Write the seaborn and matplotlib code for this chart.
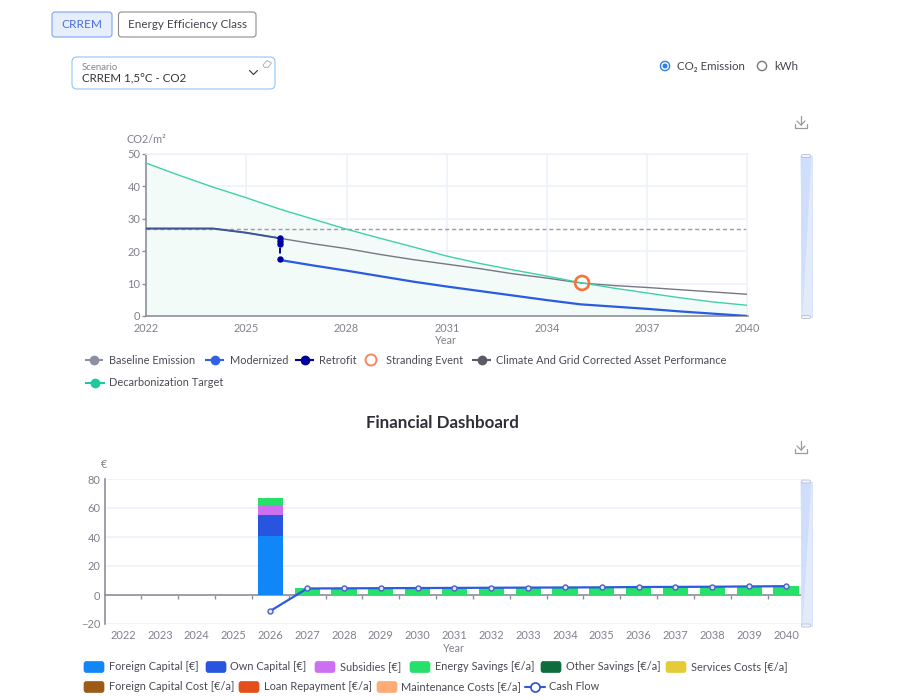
import numpy as np
import matplotlib
matplotlib.use("Agg")
import matplotlib.pyplot as plt
from matplotlib.patches import FancyBboxPatch, Circle, Polygon, Rectangle
import seaborn as sns

# ---------- data: emissions chart ----------
years = list(range(2022, 2041))
year_ticks = [2022, 2025, 2028, 2031, 2034, 2037, 2040]
target = [47.2, 43.4, 39.8, 36.5, 33.0, 29.9, 26.8, 24.0, 21.3, 18.5, 16.2, 14.2, 12.3, 10.3, 8.6, 7.1, 5.6, 4.3, 3.3]
baseline = [27.0] * 19
climate = [27.0, 27.0, 27.0, 25.7, 24.0, 22.3, 20.8, 19.0, 17.4, 16.0, 14.6, 13.0, 11.7, 10.2, 9.4, 8.8, 8.1, 7.4, 6.7]
pre_years = [2022, 2023, 2024, 2025, 2026]
pre_retrofit = [27.0, 27.0, 27.0, 25.7, 24.0]
mod_years = years[4:]
modernized = [17.3, 15.6, 14.0, 12.3, 10.6, 9.1, 7.7, 6.3, 4.9, 3.6, 2.9, 2.2, 1.4, 0.7, 0.0]
retrofit_years = [2026, 2026, 2026, 2026]
retrofit = [24.2, 23.0, 22.3, 17.5]
strand_x = [2035.05]
strand_y = [10.2]

# ---------- data: financial chart ----------
foreign_capital = [0, 0, 0, 0, 40.5] + [0] * 14
own_capital = [0, 0, 0, 0, 15.0] + [0] * 14
subsidies = [0, 0, 0, 0, 6.3] + [0] * 14
energy_savings = [0, 0, 0, 0, 4.8, 4.8, 4.8, 4.9, 5.0, 5.1, 5.2, 5.3, 5.4, 5.5, 5.6, 5.8, 5.9, 6.1, 6.3]
loan_repayment = [0, 0, 0, 0, 0, -0.2, -0.2, -0.2, -0.2, -0.2, -0.2, -0.2, -0.2, -0.2, -0.2, -0.2, -0.2, -0.2, -0.2]
cash_flow = [-11.0, 4.5, 4.6, 4.7, 4.8, 4.9, 5.0, 5.1, 5.2, 5.3, 5.5, 5.6, 5.7, 5.9, 6.1]
cash_idx = list(range(4, 19))

# ---------- text ----------
legend1 = ["Baseline Emission", "Modernized", "Retrofit", "Stranding Event",
           "Climate And Grid Corrected Asset Performance", "Decarbonization Target"]
legend2 = ["Foreign Capital [€]", "Own Capital [€]", "Subsidies [€]", "Energy Savings [€/a]",
           "Other Savings [€/a]", "Services Costs [€/a]", "Foreign Capital Cost [€/a]",
           "Loan Repayment [€/a]", "Maintenance Costs [€/a]", "Cash Flow"]

W, H = 900, 700
sns.set_theme(style="white")
plt.rcParams["font.family"] = ["Lato", "Noto Sans", "DejaVu Sans"]
TXT = "#4a4a55"
AX = "#8d8f9a"
TICK = "#80828c"
GRID = "#eef1f8"
LEG = 7.9

fig = plt.figure(figsize=(W / 100, H / 100), dpi=100, facecolor="white")


def px_axes(l, t, r, b, **kw):
    return fig.add_axes([l / W, 1 - b / H, (r - l) / W, (b - t) / H], **kw)


# ---------- emissions chart ----------
ax1 = px_axes(146, 154, 747.5, 316)
ax1.fill_between(years, target, 0, color="#f3fbf8", lw=0, zorder=1)
sns.lineplot(x=years, y=baseline, ax=ax1, color="#9a9aac", lw=1, linestyle=(0, (3, 2)), zorder=2)
sns.lineplot(x=years, y=climate, ax=ax1, color="#777783", lw=1.0, zorder=3)
sns.lineplot(x=years, y=target, ax=ax1, color="#3fd0aa", lw=1.0, zorder=3)
sns.lineplot(x=pre_years, y=pre_retrofit, ax=ax1, color="#3f5596", lw=1.4, zorder=4)
sns.lineplot(x=mod_years, y=modernized, ax=ax1, color="#2a5be0", lw=1.6, zorder=4)
ax1.plot(retrofit_years, retrofit, color="#0000a0", lw=1.4, ls=(0, (3, 2)),
         marker="o", ms=3.6, mfc="#0000a0", mec="#0000a0", zorder=5)
sns.scatterplot(x=strand_x, y=strand_y, ax=ax1, s=100, facecolor="none",
                edgecolor="#f4743b", linewidth=1.9, zorder=6, clip_on=False)
ax1.set_xlim(2022, 2040)
ax1.set_ylim(0, 50)
ax1.set_xticks(year_ticks)
ax1.set_yticks([0, 10, 20, 30, 40, 50])
ax1.grid(True, color=GRID, lw=1.2)
ax1.set_axisbelow(True)
for s in ["top", "right"]:
    ax1.spines[s].set_color(GRID)
    ax1.spines[s].set_linewidth(1.2)
for s in ["left", "bottom"]:
    ax1.spines[s].set_color(AX)
    ax1.spines[s].set_linewidth(1.2)
ax1.tick_params(axis="x", length=0, pad=5, labelsize=7.8, labelcolor=TICK)
ax1.tick_params(axis="y", left=True, length=3, width=1, color=AX, pad=1, labelsize=8, labelcolor=TICK)
ax1.set_xlabel("")
ax1.set_ylabel("")

# ---------- financial chart ----------
ax2 = px_axes(104.6, 479, 804.4, 624)
BAR_W = 0.68
bottom = np.zeros(19)
for vals, col in [(foreign_capital, "#1186f7"), (own_capital, "#2755e0"),
                  (subsidies, "#cc6ff0"), (energy_savings, "#27e06a")]:
    sns.barplot(x=years, y=vals, ax=ax2, color=col, width=BAR_W, bottom=bottom,
                saturation=1, errorbar=None, zorder=3, legend=False, linewidth=0)
    bottom = bottom + np.array(vals)
sns.barplot(x=years, y=loan_repayment, ax=ax2, color="#e54e1a", width=BAR_W,
            saturation=1, errorbar=None, zorder=3, legend=False, linewidth=0)
sns.lineplot(x=cash_idx, y=cash_flow, ax=ax2, color="#2a5be0", lw=1.6, marker="o", ms=3.6,
             mfc="#dfe6f8", mec="#4a62c4", mew=1, zorder=5)
ax2.set_xlim(-0.5, 18.5)
ax2.set_ylim(-20, 80)
ax2.set_yticks([-20, 0, 20, 40, 60, 80])
ax2.grid(True, axis="y", color=GRID, lw=1.2)
ax2.set_axisbelow(True)
for s in ["top", "right"]:
    ax2.spines[s].set_visible(False)
ax2.spines["left"].set_color(AX)
ax2.spines["left"].set_linewidth(1.2)
ax2.spines["bottom"].set_position(("data", 0))
ax2.spines["bottom"].set_color(AX)
ax2.spines["bottom"].set_linewidth(1.2)
ax2.set_xticks(np.arange(0.5, 18.6, 1))
ax2.set_xticklabels([])
ax2.tick_params(axis="x", bottom=True, length=3, width=1, color=AX)
ax2.tick_params(axis="y", length=0, pad=3, labelsize=8, labelcolor=TICK)
ax2.set_xlabel("")
ax2.set_ylabel("")
sec = ax2.secondary_xaxis("bottom")
sec.set_xticks(range(19))
sec.set_xticklabels([str(y) for y in years])
sec.tick_params(length=0, pad=4, labelsize=8, labelcolor=TICK)
sec.spines["bottom"].set_visible(False)

# ---------- overlay in pixel coordinates (page furniture, legends) ----------
ui = fig.add_axes([0, 0, 1, 1], zorder=10)
ui.set_xlim(0, W)
ui.set_ylim(H, 0)
ui.axis("off")
ui.patch.set_alpha(0)


def box(x0, y0, x1, y1, fc, ec, r=3, lw=0.8):
    ui.add_patch(FancyBboxPatch((x0, y0), x1 - x0, y1 - y0, boxstyle=f"round,pad=0,rounding_size={r}",
                                fc=fc, ec=ec, lw=lw))


def t(x, y, s, size=LEG, color=TXT, ha="left", **kw):
    ui.text(x, y, s, fontsize=size, color=color, ha=ha, va="center", **kw)


# buttons
box(52, 12, 112, 37, "#e6eefc", "#7fa2f0")
t(82, 24.5, "CRREM", 8.6, "#4d6fd8", ha="center")
box(118.5, 12, 256, 37, "white", "#8c8c8c")
t(187, 24.5, "Energy Efficiency Class", 8.4, "#44444c", ha="center")

# dropdown
box(72, 57, 275, 89, "white", "#90c4fa", r=5)
t(81.5, 67, "Scenario", 6.9, "#85858c")
t(82, 79, "CRREM 1,5°C - CO2", 8.3, "#33333a")
ui.plot([249.5, 253.5, 257.5], [70.5, 74.5, 70.5], color="#44444c", lw=0.9)
ui.add_patch(Polygon([[263, 65], [267, 60.5], [271.5, 63], [268, 67.5], [264.5, 67.5]], fc="none", ec="#a8a8ae", lw=0.6))

# radios
ui.add_patch(Circle((665, 66), 4.6, fc="white", ec="#2f80e4", lw=1.0))
ui.add_patch(Circle((665, 66), 2.5, fc="#2f80e4", ec="none"))
t(677, 66, "CO₂ Emission", 8.3, "#44444c")
ui.add_patch(Circle((762, 66), 4.6, fc="white", ec="#77777d", lw=1.0))
t(774, 66, "kWh", 8.3, "#44444c")


def dl_icon(cx, cy):
    c = "#9a9a9f"
    ui.plot([cx, cx], [cy - 6, cy + 3], color=c, lw=0.9)
    ui.plot([cx - 4, cx, cx + 4], [cy - 1, cy + 3, cy - 1], color=c, lw=0.9)
    ui.plot([cx - 6, cx - 6, cx + 6, cx + 6], [cy + 2, cy + 6, cy + 6, cy + 2], color=c, lw=0.9)


dl_icon(801, 122)
dl_icon(801, 447)


def slider(x0, x1, y0, y1):
    ui.add_patch(Rectangle((x0, y0), x1 - x0, y1 - y0, fc="#e3ebfb", ec="#d6e2f8", lw=0.6))
    ui.add_patch(Polygon([[x0, y0], [x1, y0], [x0 + 2, y1]], fc="#cfdefa", ec="none"))
    for yy in (y0, y1):
        ui.add_patch(FancyBboxPatch((x0 + 1, yy - 1.5), x1 - x0 - 2, 3,
                                    boxstyle="round,pad=0,rounding_size=1.5", fc="#f2f5fc", ec="#b6c0d4", lw=0.6))


slider(800.5, 811.5, 156, 317)
slider(800.5, 811.5, 481.5, 625.5)

# axis names and title
t(146, 139.5, "CO2/m²", 7.8, TICK, ha="center")
t(446, 340, "Year", 7.8, TICK, ha="center")
t(104, 464.5, "€", 7.8, TICK, ha="center")
t(454, 648, "Year", 7.8, TICK, ha="center")
t(442, 423.5, "Financial Dashboard", 12.2, "#2f2f37", ha="center", fontweight="bold")


def line_entry(x0, x1, y, col, lab, tx):
    ui.plot([x0, x1], [y, y], color=col, lw=1.5, solid_capstyle="butt")
    ui.plot([(x0 + x1) / 2], [y], "o", ms=6, color=col, mec=col)
    t(tx, y, lab)


row1 = 360
line_entry(85, 103, row1, "#8d8fa3", legend1[0], 109)
line_entry(205, 224, row1, "#2f62e6", legend1[1], 230)
line_entry(295, 314, row1, "#00009b", legend1[2], 319.5)
ui.add_patch(Circle((371, row1), 5.5, fc="white", ec="#f5875f", lw=1.4))
t(385.5, row1, legend1[3])
line_entry(472, 491, row1, "#5b5b66", legend1[4], 496)
line_entry(85, 105, 383, "#1fc79b", legend1[5], 109)

sw = [(84, 667, "#1186f7", 109), (206, 667, "#2755e0", 230.5), (315, 667, "#cc6ff0", 340),
      (410, 667, "#27e06a", 435), (541, 667, "#0d6e3b", 566), (666, 667, "#e3cc35", 691),
      (84, 687, "#9b5c17", 109), (239, 687, "#e54e1a", 263.5), (377, 687, "#ffab76", 401)]
for (x0, y0, col, tx), lab in zip(sw, legend2):
    box(x0, y0 - 5.5, x0 + 20, y0 + 5.5, col, col, r=2.5, lw=0.5)
    t(tx, y0, lab)
ui.plot([525, 545], [687, 687], color="#2a5be0", lw=1.5)
ui.plot([535], [687], "o", ms=6.5, mfc="white", mec="#2a4fc0", mew=1.2)
t(549, 687, legend2[9])

fig.savefig("out.png", dpi=100)
